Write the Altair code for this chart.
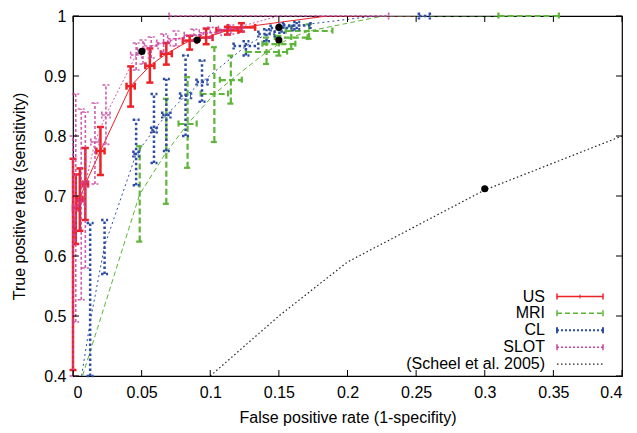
import altair as alt
import pandas as pd

# ---------------- data ----------------
# US
us_x    = [0.0, 0.002, 0.005, 0.009, 0.020, 0.042, 0.056, 0.068, 0.085, 0.097, 0.1125, 0.1227, 0.185, 0.25]
us_y    = [0.60, 0.68, 0.695, 0.72, 0.775, 0.883, 0.917, 0.937, 0.959, 0.964, 0.976, 0.981, 1.0, 1.0]
us_ylo  = [0.41, 0.62, 0.642, 0.66, 0.735, 0.849, 0.889, 0.919, 0.944, 0.953, 0.969, 0.974, 1.0, 1.0]
us_yhi  = [0.762, 0.736, 0.746, 0.78, 0.815, 0.916, 0.946, 0.955, 0.967, 0.979, 0.982, 0.988, 1.0, 1.0]
us_xerr = [0.0, 0.002, 0.002, 0.002, 0.003, 0.003, 0.0033, 0.004, 0.005, 0.0047, 0.008, 0.01, 0.0, 0.0]

# MRI
mri_x    = [0.0, 0.0486, 0.068, 0.0835, 0.103, 0.115, 0.141, 0.150, 0.159, 0.172, 0.226, 0.332]
mri_y    = [0.35, 0.703, 0.773, 0.82, 0.87, 0.893, 0.94, 0.953, 0.964, 0.975, 1.0, 1.0]
mri_ylo  = [0.35, 0.624, 0.687, 0.747, 0.79, 0.854, 0.92, 0.934, 0.945, 0.962, 1.0, 1.0]
mri_yhi  = [0.35, 0.783, 0.862, 0.898, 0.948, 0.934, 0.964, 0.967, 0.983, 0.986, 1.0, 1.0]
mri_xerr = [0.0, 0.0, 0.0, 0.0066, 0.01, 0.008, 0.015, 0.012, 0.012, 0.017, 0.0, 0.022]

# CL
cl_x    = [0.0, 0.0125, 0.023, 0.046, 0.059, 0.068, 0.082, 0.094, 0.126, 0.141, 0.152, 0.163, 0.22, 0.256]
cl_y    = [0.31, 0.49, 0.617, 0.77, 0.81, 0.835, 0.867, 0.89, 0.95, 0.97, 0.98, 0.984, 1.0, 1.0]
cl_ylo  = [0.31, 0.40, 0.57, 0.718, 0.755, 0.775, 0.80, 0.857, 0.934, 0.958, 0.972, 0.978, 1.0, 1.0]
cl_yhi  = [0.31, 0.655, 0.66, 0.827, 0.87, 0.895, 0.934, 0.926, 0.958, 0.978, 0.986, 0.99, 1.0, 1.0]
cl_xerr = [0.0, 0.0, 0.0, 0.002, 0.002, 0.003, 0.004, 0.004, 0.009, 0.006, 0.008, 0.01, 0.0, 0.004]

# SLOT
slot_x    = [0.0, 0.002, 0.006, 0.009, 0.016, 0.024, 0.046, 0.051, 0.057, 0.066, 0.075, 0.088, 0.100, 0.115, 0.15]
slot_y    = [0.62, 0.68, 0.69, 0.72, 0.79, 0.835, 0.935, 0.942, 0.950, 0.955, 0.962, 0.968, 0.972, 0.978, 1.0]
slot_ylo  = [0.40, 0.49, 0.527, 0.58, 0.72, 0.786, 0.91, 0.92, 0.93, 0.94, 0.95, 0.958, 0.963, 0.97, 1.0]
slot_yhi  = [0.80, 0.87, 0.845, 0.84, 0.855, 0.885, 0.955, 0.96, 0.965, 0.97, 0.975, 0.978, 0.981, 0.985, 1.0]
slot_xerr = [0.0, 0.002, 0.002, 0.002, 0.003, 0.003, 0.004, 0.004, 0.005, 0.005, 0.006, 0.007, 0.008, 0.009, 0.08]

# Scheel et al. 2005
scheel_x = [0.1, 0.15, 0.2, 0.3, 0.4]
scheel_y = [0.4, 0.5, 0.59, 0.71, 0.80]

# highlighted points
dot_x = [0.0502, 0.0904, 0.150, 0.150, 0.3]
dot_y = [0.941, 0.960, 0.981, 0.960, 0.712]

x_ticks = [0, 0.05, 0.1, 0.15, 0.2, 0.25, 0.3, 0.35, 0.4]
y_ticks = [0.4, 0.5, 0.6, 0.7, 0.8, 0.9, 1.0]

legend_labels = ["US", "MRI", "CL", "SLOT", "(Scheel et al. 2005)"]

# ---------------- layout ----------------
W, H = 549, 360
FONT = "Liberation Sans"
xs = alt.Scale(domain=[0, 0.4], nice=False, zero=False)
ys = alt.Scale(domain=[0.4, 1.0], nice=False, zero=False)
XTITLE = "False positive rate (1-specifity)"
YTITLE = "True positive rate (sensitivity)"
AX = dict(format="~g", labelFont=FONT, labelFontSize=16, labelColor="black",
          titleFont=FONT, titleFontSize=16, titleFontWeight="normal", titleColor="black",
          domain=False, grid=False, ticks=False)
xaxis = alt.Axis(values=x_ticks, labelPadding=8, titlePadding=9, **AX)
yaxis = alt.Axis(values=y_ticks, labelPadding=7, titlePadding=16, **AX)


def xenc(f):
    return alt.X(f, type="quantitative", scale=xs, axis=xaxis, title=XTITLE)


def yenc(f):
    return alt.Y(f, type="quantitative", scale=ys, axis=yaxis, title=YTITLE)


def make_df(x, y, ylo, yhi, xerr):
    df = pd.DataFrame({"x": x, "y": y, "ylo": ylo, "yhi": yhi, "xerr": xerr})
    df["xlo"] = df["x"] - df["xerr"]
    df["xhi"] = df["x"] + df["xerr"]
    df["i"] = range(len(df))
    return df


def series_layers(df, color, bw, bdash, lw, ldash, op=1.0, cap=3.5):
    base = alt.Chart(df)
    lk = dict(color=color, strokeWidth=lw, opacity=op)
    if ldash:
        lk["strokeDash"] = ldash
    bk = dict(color=color, strokeWidth=bw, opacity=op)
    if bdash:
        bk["strokeDash"] = bdash
    line = base.mark_line(clip=True, **lk).encode(x=xenc("x"), y=yenc("y"), order="i:Q")
    yb = base.transform_filter("datum.yhi > datum.ylo")
    xb = base.transform_filter("datum.xhi > datum.xlo")
    vbar = yb.mark_rule(**bk).encode(x=xenc("x"), y=yenc("ylo"), y2="yhi")
    vcap = yb.transform_fold(["ylo", "yhi"], as_=["k", "cy"]).mark_rule(
        xOffset=-cap, x2Offset=cap, **bk).encode(x=xenc("x"), x2="x", y=yenc("cy"))
    hbar = xb.mark_rule(**bk).encode(x=xenc("xlo"), x2="xhi", y=yenc("y"))
    hcap = xb.transform_fold(["xlo", "xhi"], as_=["k", "cx"]).mark_rule(
        yOffset=-cap, y2Offset=cap, **bk).encode(x=xenc("cx"), y=yenc("y"), y2="y")
    return [line, vbar, vcap, hbar, hcap]


US_C, MRI_C, CL_C, SLOT_C, SCH_C = "#ec2226", "#5fb43a", "#2c4da3", "#c93f9f", "#222222"

layers = []
layers += series_layers(make_df(us_x, us_y, us_ylo, us_yhi, us_xerr), US_C, 2.5, None, 1.0, None)
layers += series_layers(make_df(mri_x, mri_y, mri_ylo, mri_yhi, mri_xerr), MRI_C, 2.2, [6, 3], 1.0, [5, 3])
layers += series_layers(make_df(cl_x, cl_y, cl_ylo, cl_yhi, cl_xerr), CL_C, 2.5, [2.5, 2.5], 1.0, [2, 3])
layers += series_layers(make_df(slot_x, slot_y, slot_ylo, slot_yhi, slot_xerr), SLOT_C, 1.6, [3, 2], 1.0, [2, 2], op=0.85)

sch = pd.DataFrame({"x": scheel_x, "y": scheel_y, "i": range(len(scheel_x))})
layers.append(alt.Chart(sch).mark_line(clip=True, color=SCH_C, strokeWidth=1.2, strokeDash=[1.5, 2.5]).encode(
    x=xenc("x"), y=yenc("y"), order="i:Q"))

dots = pd.DataFrame({"x": dot_x, "y": dot_y})
layers.append(alt.Chart(dots).mark_circle(color="black", size=50, opacity=1).encode(x=xenc("x"), y=yenc("y")))

# inward tick marks on all four sides
xt = pd.DataFrame({"t": x_ticks})
yt = pd.DataFrame({"t": y_ticks})
TL = 6
layers.append(alt.Chart(xt).mark_rule(color="black", strokeWidth=1).encode(
    x=xenc("t"), y=alt.value(H), y2=alt.value(H - TL)))
layers.append(alt.Chart(xt).mark_rule(color="black", strokeWidth=1).encode(
    x=xenc("t"), y=alt.value(0), y2=alt.value(TL)))
layers.append(alt.Chart(yt).mark_rule(color="black", strokeWidth=1).encode(
    y=yenc("t"), x=alt.value(0), x2=alt.value(TL)))
layers.append(alt.Chart(yt).mark_rule(color="black", strokeWidth=1).encode(
    y=yenc("t"), x=alt.value(W), x2=alt.value(W - TL)))

# legend (bottom right, labels left of samples)
one = pd.DataFrame({"a": [0]})
rows = [280.5, 297.3, 314.3, 331.2, 348.2]
styles = [
    (US_C, 1.5, None, True),
    (MRI_C, 1.5, [5, 3], True),
    (CL_C, 2.0, [2, 2], True),
    (SLOT_C, 1.5, [2, 2], True),
    (SCH_C, 1.2, [1.5, 2.5], False),
]
LX_T, LX1, LX2 = 472, 484, 530
for lab, ry, (col, sw, dash, caps) in zip(legend_labels, rows, styles):
    layers.append(alt.Chart(one).mark_text(text=lab, align="right", baseline="middle", font=FONT,
                                           fontSize=16, color="black").encode(
        x=alt.value(LX_T), y=alt.value(ry)))
    kw = dict(color=col, strokeWidth=sw)
    if dash:
        kw["strokeDash"] = dash
    layers.append(alt.Chart(one).mark_rule(**kw).encode(
        x=alt.value(LX1), x2=alt.value(LX2), y=alt.value(ry)))
    if caps:
        for cx in (LX1, LX2):
            layers.append(alt.Chart(one).mark_rule(color=col, strokeWidth=sw).encode(
                x=alt.value(cx), y=alt.value(ry - 3), y2=alt.value(ry + 3)))
        if lab == "US":
            layers.append(alt.Chart(one).mark_rule(color=col, strokeWidth=1).encode(
                x=alt.value((LX1 + LX2) / 2), y=alt.value(ry - 2), y2=alt.value(ry + 2)))

chart = alt.layer(*layers).properties(
    width=W, height=H,
    background="white",
    autosize=alt.AutoSizeParams(type="none"),
    padding={"left": 65, "top": 8, "right": 7, "bottom": 55},
).configure_view(stroke="black", strokeWidth=1.2).configure_axis(
    domain=False, grid=False, ticks=False,
    labelFont=FONT, labelFontSize=16, labelColor="black",
    titleFont=FONT, titleFontSize=16, titleFontWeight="normal", titleColor="black",
)

chart.save("out.html", embed_options={"renderer": "svg", "actions": False})
